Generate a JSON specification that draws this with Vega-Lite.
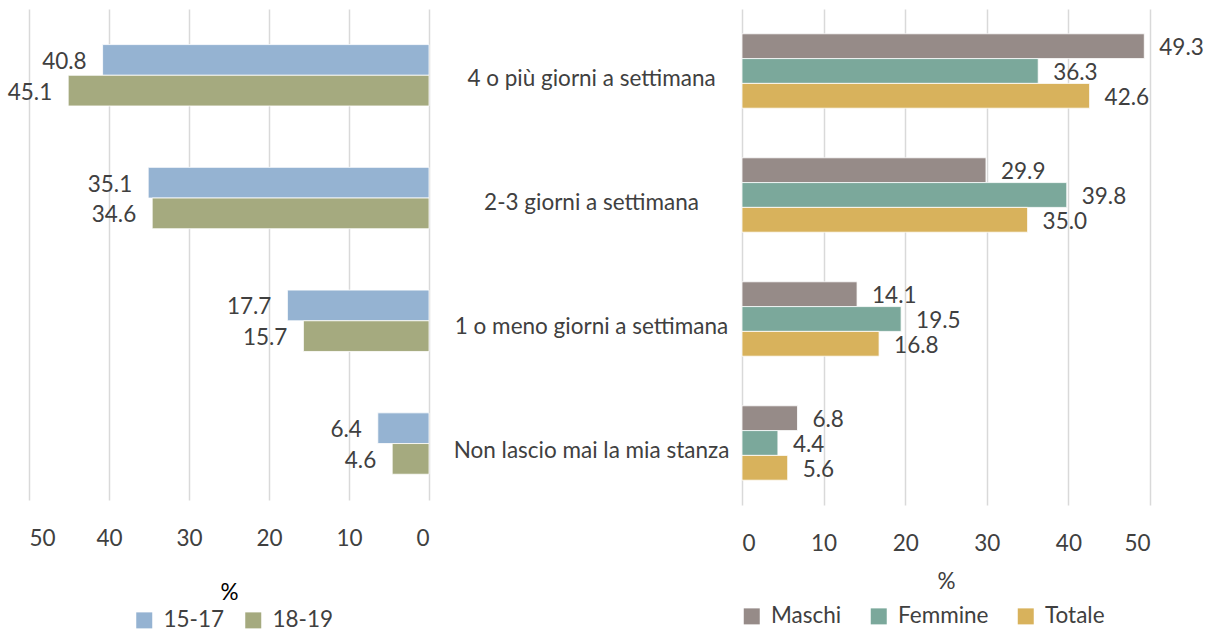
{
  "$schema": "https://vega.github.io/schema/vega-lite/v6.json",
  "padding": {"left": 7, "top": 9, "right": 5, "bottom": 5},
  "background": "white",
  "config": {
    "view": {"stroke": null},
    "font": "Lato",
    "axis": {"gridColor": "#D9D9D9", "gridWidth": 1.5, "labelFont": "Lato", "titleFont": "Lato", "labelFontSize": 22.5, "labelColor": "#404040", "titleFontSize": 22.5, "titleFontWeight": "normal"},
    "legend": {"labelFont": "Lato"}
  },
  "spacing": 23,
  "resolve": {"scale": {"color": "independent"}, "legend": {"color": "independent"}},
  "hconcat": [
    {
      "width": 400,
      "height": 491,
      "data": {"values": [
        {"cat": "4 o più giorni a settimana", "group": "15-17", "key": "4 o più giorni a settimana|15-17", "value": 40.8},
        {"cat": "4 o più giorni a settimana", "group": "18-19", "key": "4 o più giorni a settimana|18-19", "value": 45.1},
        {"cat": "2-3 giorni a settimana", "group": "15-17", "key": "2-3 giorni a settimana|15-17", "value": 35.1},
        {"cat": "2-3 giorni a settimana", "group": "18-19", "key": "2-3 giorni a settimana|18-19", "value": 34.6},
        {"cat": "1 o meno giorni a settimana", "group": "15-17", "key": "1 o meno giorni a settimana|15-17", "value": 17.7},
        {"cat": "1 o meno giorni a settimana", "group": "18-19", "key": "1 o meno giorni a settimana|18-19", "value": 15.7},
        {"cat": "Non lascio mai la mia stanza", "group": "15-17", "key": "Non lascio mai la mia stanza|15-17", "value": 6.4},
        {"cat": "Non lascio mai la mia stanza", "group": "18-19", "key": "Non lascio mai la mia stanza|18-19", "value": 4.6}
      ]},
      "encoding": {
        "y": {"field": "key", "type": "nominal", "scale": {"domain": ["4 o più giorni a settimana|15-17", "4 o più giorni a settimana|18-19", "gap1a", "gap1b", "2-3 giorni a settimana|15-17", "2-3 giorni a settimana|18-19", "gap2a", "gap2b", "1 o meno giorni a settimana|15-17", "1 o meno giorni a settimana|18-19", "gap3a", "gap3b", "Non lascio mai la mia stanza|15-17", "Non lascio mai la mia stanza|18-19"], "paddingInner": 0, "paddingOuter": 1.1, "align": 0.58}, "axis": null},
        "x": {"field": "value", "type": "quantitative", "scale": {"domain": [0, 50], "reverse": true, "nice": false}, "axis": {"values": [0, 10, 20, 30, 40, 50], "title": "%", "titleColor": "#000000", "grid": true, "domain": false, "ticks": false, "labelPadding": 27, "titlePadding": 32}}
      },
      "layer": [
        {"mark": {"type": "bar", "stroke": "#ffffff", "strokeWidth": 0.8},
         "encoding": {"color": {"field": "group", "type": "nominal", "scale": {"domain": ["15-17", "18-19"], "range": ["#95B3D2", "#A5AA7F"]},
           "legend": {"orient": "none", "legendX": 104, "legendY": 600, "direction": "horizontal", "title": null, "symbolType": "square", "symbolSize": 256, "symbolStrokeWidth": 0, "labelFontSize": 22.5, "labelColor": "#404040", "columnPadding": 17, "labelOffset": 8}}}},
        {"mark": {"type": "text", "align": "right", "baseline": "middle", "dx": -16, "dy": 2, "fontSize": 22.5, "color": "#404040"},
         "encoding": {"text": {"field": "value", "type": "quantitative", "format": ".1f"}}}
      ]
    },
    {
      "width": 408,
      "height": 496,
      "data": {"values": [
        {"cat": "4 o più giorni a settimana", "sex": "Maschi", "key": "4 o più giorni a settimana|Maschi", "value": 49.3},
        {"cat": "4 o più giorni a settimana", "sex": "Femmine", "key": "4 o più giorni a settimana|Femmine", "value": 36.3},
        {"cat": "4 o più giorni a settimana", "sex": "Totale", "key": "4 o più giorni a settimana|Totale", "value": 42.6},
        {"cat": "2-3 giorni a settimana", "sex": "Maschi", "key": "2-3 giorni a settimana|Maschi", "value": 29.9},
        {"cat": "2-3 giorni a settimana", "sex": "Femmine", "key": "2-3 giorni a settimana|Femmine", "value": 39.8},
        {"cat": "2-3 giorni a settimana", "sex": "Totale", "key": "2-3 giorni a settimana|Totale", "value": 35.0},
        {"cat": "1 o meno giorni a settimana", "sex": "Maschi", "key": "1 o meno giorni a settimana|Maschi", "value": 14.1},
        {"cat": "1 o meno giorni a settimana", "sex": "Femmine", "key": "1 o meno giorni a settimana|Femmine", "value": 19.5},
        {"cat": "1 o meno giorni a settimana", "sex": "Totale", "key": "1 o meno giorni a settimana|Totale", "value": 16.8},
        {"cat": "Non lascio mai la mia stanza", "sex": "Maschi", "key": "Non lascio mai la mia stanza|Maschi", "value": 6.8},
        {"cat": "Non lascio mai la mia stanza", "sex": "Femmine", "key": "Non lascio mai la mia stanza|Femmine", "value": 4.4},
        {"cat": "Non lascio mai la mia stanza", "sex": "Totale", "key": "Non lascio mai la mia stanza|Totale", "value": 5.6}
      ]},
      "encoding": {
        "y": {"field": "key", "type": "nominal", "scale": {"domain": ["4 o più giorni a settimana|Maschi", "4 o più giorni a settimana|Femmine", "4 o più giorni a settimana|Totale", "gap1a", "gap1b", "2-3 giorni a settimana|Maschi", "2-3 giorni a settimana|Femmine", "2-3 giorni a settimana|Totale", "gap2a", "gap2b", "1 o meno giorni a settimana|Maschi", "1 o meno giorni a settimana|Femmine", "1 o meno giorni a settimana|Totale", "gap3a", "gap3b", "Non lascio mai la mia stanza|Maschi", "Non lascio mai la mia stanza|Femmine", "Non lascio mai la mia stanza|Totale"], "paddingInner": 0, "paddingOuter": 1}, "axis": {"title": null, "domain": false, "ticks": false, "grid": false, "labelAlign": "center", "labelBaseline": "middle", "labelPadding": 151, "labelOffset": 8, "labelLimit": 400, "labelExpr": "indexof(datum.value, '|Femmine') > 0 ? split(datum.value, '|')[0] : ''"}},
        "x": {"field": "value", "type": "quantitative", "scale": {"domain": [0, 50], "nice": false}, "axis": {"values": [0, 10, 20, 30, 40, 50], "title": "%", "titleColor": "#404040", "grid": true, "domain": false, "ticks": false, "labelPadding": 27, "titlePadding": 16}}
      },
      "layer": [
        {"mark": {"type": "bar", "stroke": "#ffffff", "strokeWidth": 0.8},
         "encoding": {"color": {"field": "sex", "type": "nominal", "scale": {"domain": ["Maschi", "Femmine", "Totale"], "range": ["#968B88", "#7BA89B", "#D8B25C"]},
           "legend": {"orient": "none", "legendX": -1.5, "legendY": 596, "direction": "horizontal", "title": null, "symbolType": "square", "symbolSize": 256, "symbolStrokeWidth": 0, "labelFontSize": 22.5, "labelColor": "#404040", "columnPadding": 26, "labelOffset": 8}}}},
        {"mark": {"type": "text", "align": "left", "baseline": "middle", "dx": 15, "dy": 2, "fontSize": 22.5, "color": "#404040"},
         "encoding": {"text": {"field": "value", "type": "quantitative", "format": ".1f"}}}
      ]
    }
  ]
}
